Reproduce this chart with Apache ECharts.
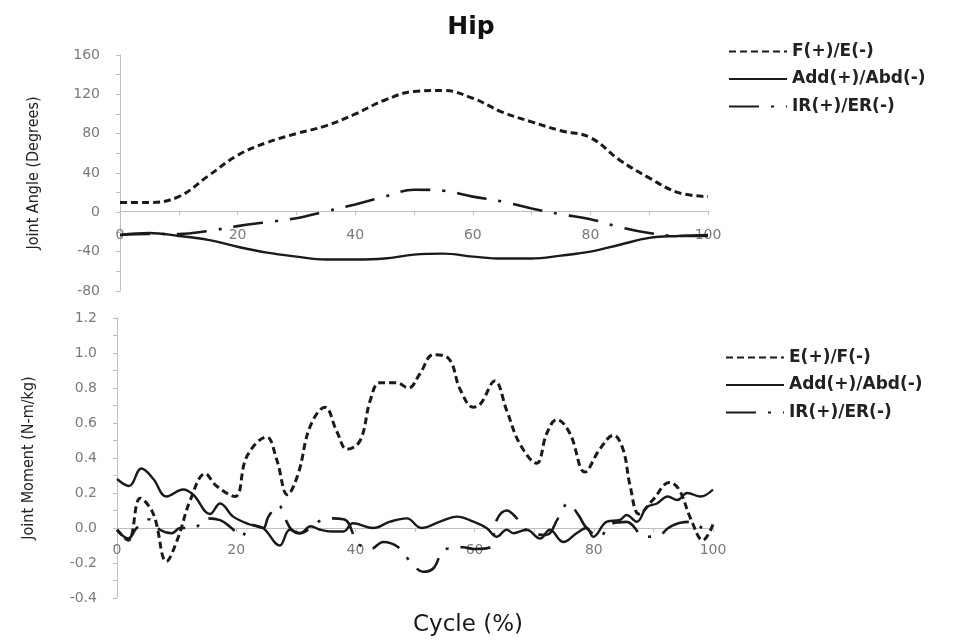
<!DOCTYPE html>
<html><head><meta charset="utf-8">
<script src="https://cdn.jsdelivr.net/npm/echarts@6/dist/echarts.min.js"></script>
<style>html,body{margin:0;padding:0;background:#fff}#c{width:953px;height:641px}</style>
</head><body><div id="c"></div>
<script>
// ---- Top panel: joint angle (degrees) sampled every 5 % of cycle ----
const angleX = [0,5,10,15,20,25,30,35,40,45,50,55,60,65,70,75,80,85,90,95,100];
const angleFE = [10,10,16,37,58,71,80,88,100,114,123,124,116,102,92,83,76,53,35,20,16];
const angleAA = [-23,-21,-24,-28,-35,-41,-45,-48,-48,-47,-43,-42,-45,-47,-47,-44,-40,-33,-26,-24,-23];
const angleIR = [-23,-22,-22,-19,-14,-10,-6,1,8,16,23,22,16,11,4,-2,-7,-15,-21,-24,-24];

// ---- Bottom panel: joint moment (N-m/kg) ----
const momentEFx = [0,1.9,3.9,6.1,8.3,10.2,12.3,14.8,16.7,19.8,21.8,25.1,26.8,28.6,30.4,32.4,34.9,36.9,38.6,40.8,42.5,44.1,46.9,48.9,50.8,53.1,55.6,57.6,59.8,61,63.4,65.4,67.6,70.4,72.1,73.8,76,78.5,81,83.3,84.9,86.1,87.6,89.9,92.7,94.3,96.3,98.3,100];
const momentEF = [-0.01,-0.07,0.17,0.08,-0.19,-0.06,0.16,0.31,0.24,0.18,0.41,0.52,0.39,0.19,0.31,0.58,0.69,0.55,0.45,0.50,0.73,0.83,0.83,0.80,0.88,0.99,0.97,0.79,0.69,0.71,0.84,0.67,0.48,0.37,0.54,0.62,0.54,0.32,0.45,0.53,0.45,0.24,0.08,0.16,0.26,0.22,0.05,-0.07,0.02];
const momentAAx = [0,2,4.1,6.1,8.3,11.1,12.8,15.6,17.3,19.5,22.3,24.5,27.3,29,30.7,32.5,34.1,36,38,39.6,43,45.8,48.6,51.1,54.2,57,59.8,62,63.7,65.4,66.5,68.7,71,72.6,74.9,77.1,78.8,79.9,82.2,84.4,85.5,87.2,88.9,90.6,92.4,94,95.7,97.9,100];
const momentAA = [0.28,0.24,0.34,0.28,0.18,0.22,0.19,0.08,0.14,0.065,0.02,0.0,-0.1,-0.01,-0.03,0.01,-0.01,-0.02,-0.02,0.027,0.0,0.036,0.055,0.0,0.036,0.065,0.036,0.0,-0.05,-0.01,-0.03,-0.01,-0.06,-0.01,-0.08,-0.03,0.0,-0.05,0.036,0.046,0.074,0.036,0.12,0.14,0.18,0.16,0.2,0.18,0.22];
const momentIRx = [0,1.9,3.3,5.5,7.2,9.2,10.6,12.9,15,17.3,19.2,20.9,22.3,24.5,25.4,27.1,28.2,29.3,30.7,33.5,35.2,38,40.5,42.5,44.7,47.2,49.4,51.4,53.1,54.8,56.4,58,60,62.6,63.7,65.4,67.1,69,72,74,75.7,77.4,78.8,81,82.7,85.5,88.6,91.1,92.5,94.5,96.4,98.5,100];
const momentIR = [-0.01,-0.06,0.0,0.05,-0.01,-0.03,0.0,0.0,0.055,0.045,0.0,-0.05,0.02,0.0,0.065,0.13,0.055,-0.01,-0.03,0.03,0.055,0.05,-0.09,-0.12,-0.08,-0.11,-0.2,-0.25,-0.23,-0.125,-0.115,-0.11,-0.12,-0.11,0.045,0.1,0.055,-0.02,-0.04,0.055,0.14,0.075,0.0,-0.05,0.02,0.035,-0.05,-0.04,0.0,0.03,0.035,0.0,0.01];

const topLegend = ['F(+)/E(-)','Add(+)/Abd(-)','IR(+)/ER(-)'];
const bottomLegend = ['E(+)/F(-)','Add(+)/Abd(-)','IR(+)/ER(-)'];

const zip = (xs, ys) => xs.map((x, i) => [x, ys[i]]);

const AXIS_GRAY = '#bfbfbf';
const LABEL_GRAY = '#7a7a7a';
const LINE = '#1a1a1a';
const dashStyle = {color: LINE, width: 3, type: [7, 4]};
const solidStyle = {color: LINE, width: 2.4, type: 'solid'};
const dashDotStyle = {color: LINE, width: 2.6, type: [30, 12, 3, 12]};

// Top grid: y from 160 (px 55) to -80 (px 291) -> zero at px 211, i.e. 80 px above the grid bottom.
// Bottom grid: y from 1.2 (px 318) to -0.4 (px 598) -> zero at px 528, i.e. 70 px above the grid bottom.
function xAxis(gridIndex, offset, margin) {
  return {
    type: 'value', gridIndex, min: 0, max: 100, interval: 20,
    position: 'bottom', offset,
    axisLine: {onZero: false, lineStyle: {color: AXIS_GRAY, width: 1}},
    axisTick: {show: true, length: 4, lineStyle: {color: AXIS_GRAY}},
    minorTick: {show: true, splitNumber: 2, length: 4, lineStyle: {color: AXIS_GRAY}},
    splitLine: {show: false},
    axisLabel: {color: LABEL_GRAY, fontFamily: 'DejaVu Sans', fontSize: 14, margin}
  };
}
function yAxis(gridIndex, min, max, interval, name, fmt, nameGap) {
  return {
    type: 'value', gridIndex, min, max, interval,
    name, nameLocation: 'middle', nameGap,
    nameTextStyle: {fontFamily: "'Liberation Sans Narrow','DejaVu Sans Condensed',sans-serif", fontSize: 16, color: '#222'},
    axisLine: {show: true, onZero: false, lineStyle: {color: AXIS_GRAY, width: 1}},
    axisTick: {show: true, length: 4, lineStyle: {color: AXIS_GRAY}},
    minorTick: {show: true, splitNumber: 2, length: 4, lineStyle: {color: AXIS_GRAY}},
    splitLine: {show: false},
    axisLabel: {color: LABEL_GRAY, fontFamily: 'DejaVu Sans', fontSize: 14, margin: 20, formatter: fmt}
  };
}
function legend(left, top, data) {
  return {
    orient: 'vertical', left, top, data,
    itemWidth: 58, itemHeight: 17, itemGap: 10.5,
    itemStyle: {opacity: 0},
    textStyle: {fontFamily: 'DejaVu Sans', fontWeight: 'bold', fontSize: 17, color: '#222'}
  };
}

const chart = echarts.init(document.getElementById('c'), null, {renderer: 'canvas'});
chart.setOption({
  animation: false,
  backgroundColor: '#ffffff',
  title: [
    {text: 'Hip', left: 466, top: 10, textAlign: 'center',
     textStyle: {fontFamily: 'DejaVu Sans', fontWeight: 'bold', fontSize: 25, color: '#111'}},
    {text: 'Cycle (%)', left: 463, top: 609, textAlign: 'center',
     textStyle: {fontFamily: 'DejaVu Sans', fontWeight: 'normal', fontSize: 23, color: '#1a1a1a'}}
  ],
  legend: [legend(723, 38, topLegend), legend(720, 344, bottomLegend)],
  grid: [
    {left: 120, top: 55, width: 588, height: 236},
    {left: 117, top: 318, width: 596, height: 280}
  ],
  xAxis: [xAxis(0, -80, 17), xAxis(1, -70, 15)],
  yAxis: [
    yAxis(0, -80, 160, 40, 'Joint Angle (Degrees)', v => String(v), 78),
    yAxis(1, -0.4, 1.2, 0.2, 'Joint Moment (N-m/kg)', v => v.toFixed(1), 80)
  ],
  series: [
    {name: 'F(+)/E(-)', type: 'line', xAxisIndex: 0, yAxisIndex: 0, symbol: 'none', smooth: 0.4,
     lineStyle: dashStyle, itemStyle: {color: LINE}, data: zip(angleX, angleFE)},
    {name: 'Add(+)/Abd(-)', type: 'line', xAxisIndex: 0, yAxisIndex: 0, symbol: 'none', smooth: 0.4,
     lineStyle: solidStyle, itemStyle: {color: LINE}, data: zip(angleX, angleAA)},
    {name: 'IR(+)/ER(-)', type: 'line', xAxisIndex: 0, yAxisIndex: 0, symbol: 'none', smooth: 0.4,
     lineStyle: dashDotStyle, itemStyle: {color: LINE}, data: zip(angleX, angleIR)},
    {name: 'E(+)/F(-)', type: 'line', xAxisIndex: 1, yAxisIndex: 1, symbol: 'none', smooth: 0.4,
     lineStyle: dashStyle, itemStyle: {color: LINE}, data: zip(momentEFx, momentEF)},
    {name: 'Add(+)/Abd(-)', type: 'line', xAxisIndex: 1, yAxisIndex: 1, symbol: 'none', smooth: 0.4,
     lineStyle: solidStyle, itemStyle: {color: LINE}, data: zip(momentAAx, momentAA)},
    {name: 'IR(+)/ER(-)', type: 'line', xAxisIndex: 1, yAxisIndex: 1, symbol: 'none', smooth: 0.4,
     lineStyle: dashDotStyle, itemStyle: {color: LINE}, data: zip(momentIRx, momentIR)}
  ]
});
</script></body></html>
